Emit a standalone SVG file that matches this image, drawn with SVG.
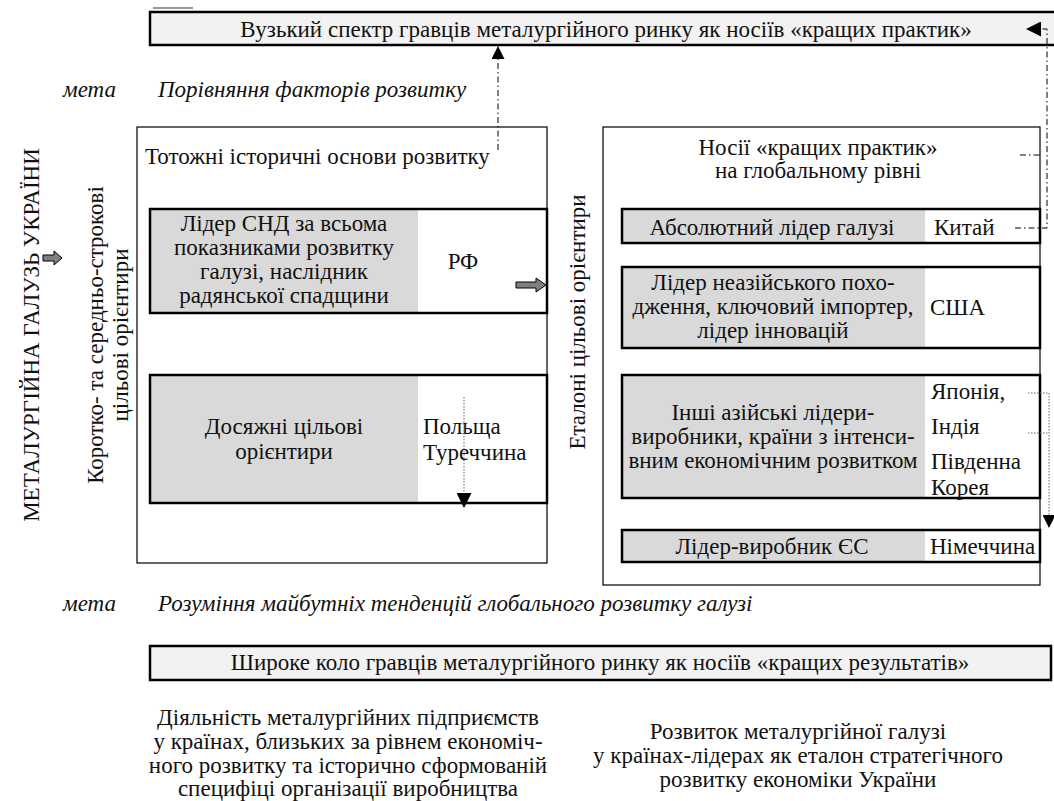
<svg xmlns="http://www.w3.org/2000/svg" width="1054" height="801" viewBox="0 0 1054 801" font-family="Liberation Serif, Times New Roman, serif">
<defs>
<style>
text{font-family:'Liberation Serif','Times New Roman',serif;font-size:23px;fill:#111}
.c{text-anchor:middle}
.i{font-style:italic}
.outer{fill:#fff;stroke:#000;stroke-width:1.2}
.band{fill:#f2f2f2;stroke:#000;stroke-width:2.5}
.gray{fill:#d9d9d9;stroke:none}
.frame{fill:none;stroke:#000;stroke-width:2.5}
.dd{fill:none;stroke:#000;stroke-width:1;stroke-dasharray:6 3 1.5 3}
.dot{fill:none;stroke:#666;stroke-width:1;stroke-dasharray:1.5 1.5}
.blk{fill:#808080;stroke:#000;stroke-width:1}
</style>
<marker id="ah" viewBox="0 0 10 10" refX="10" refY="5" markerWidth="13" markerHeight="13" markerUnits="userSpaceOnUse" orient="auto">
<path d="M0,0 L10,5 L0,10 z" fill="#000"/>
</marker>
<marker id="ahs" viewBox="0 0 10 10" refX="10" refY="5" markerWidth="15" markerHeight="15" markerUnits="userSpaceOnUse" orient="auto">
<path d="M0,0 L10,5 L0,10 z" fill="#000"/>
</marker>
</defs>

<g id="top-band">
<line x1="153" y1="8" x2="193" y2="8" stroke="#999" stroke-width="2"/>
<rect class="band" x="150" y="12" width="910" height="33"/>
<text class="c" x="606" y="37">Вузький спектр гравців металургійного ринку як носіїв «кращих практик»</text>
</g>

<g id="goal-top">
<text class="i" x="63" y="97">мета</text>
<text class="i" x="158" y="97">Порівняння факторів розвитку</text>
</g>

<g id="industry-ua">
<text class="c" transform="translate(39,335) rotate(-90)">МЕТАЛУРГІЙНА ГАЛУЗЬ УКРАЇНИ</text>
<path class="blk" d="M43,255 H54 V251 L62,258 L54,265 V261 H43 Z"/>
</g>

<g id="short-term">
<text class="c" transform="translate(103,335) rotate(-90)">Коротко- та середньо-строкові</text>
<text class="c" transform="translate(128,335) rotate(-90)">цільові орієнтири</text>
</g>

<g id="left-panel">
<rect class="outer" x="137" y="127" width="410" height="436"/>
<text x="145" y="164">Тотожні історичні основи розвитку</text>
</g>

<g id="node-rf">
<rect x="150" y="209" width="397" height="104" fill="#fff"/>
<rect class="gray" x="150" y="209" width="268" height="104"/>
<rect class="frame" x="150" y="209" width="397" height="104"/>
<text class="c" x="284" y="231">Лідер СНД за всьома</text>
<text class="c" x="284" y="255">показниками розвитку</text>
<text class="c" x="284" y="279">галузі, наслідник</text>
<text class="c" x="284" y="303">радянської спадщини</text>
<text class="c" x="463" y="269">РФ</text>
<path class="blk" d="M516,282 H536 V278 L546,285 L536,292 V288 H516 Z"/>
</g>

<g id="node-pl">
<rect x="150" y="375" width="397" height="128" fill="#fff"/>
<rect class="gray" x="150" y="375" width="268" height="128"/>
<rect class="frame" x="150" y="375" width="397" height="128"/>
<text class="c" x="284" y="434">Досяжні цільові</text>
<text class="c" x="284" y="459">орієнтири</text>
<text x="423" y="434">Польща</text>
<text x="423" y="460">Туреччина</text>
</g>

<g id="etalon-label">
<text class="c" transform="translate(585,322) rotate(-90)">Еталоні цільові орієнтири</text>
</g>

<g id="right-panel">
<rect class="outer" x="603" y="127" width="437" height="458"/>
<text class="c" x="818" y="155">Носії «кращих практик»</text>
<text class="c" x="818" y="178">на глобальному рівні</text>
</g>

<g id="node-china">
<rect x="622" y="209" width="418" height="34" fill="#fff"/>
<rect class="gray" x="622" y="209" width="303" height="34"/>
<rect class="frame" x="622" y="209" width="418" height="34"/>
<text class="c" x="772" y="235">Абсолютний лідер галузі</text>
<text x="934" y="235">Китай</text>
</g>

<g id="node-usa">
<rect x="622" y="267" width="418" height="81" fill="#fff"/>
<rect class="gray" x="622" y="267" width="303" height="81"/>
<rect class="frame" x="622" y="267" width="418" height="81"/>
<text class="c" x="773" y="290">Лідер неазійського похо-</text>
<text class="c" x="773" y="314">дження, ключовий імпортер,</text>
<text class="c" x="773" y="338">лідер інновацій</text>
<text x="930" y="315">США</text>
</g>

<g id="node-asia">
<rect x="622" y="375" width="418" height="123" fill="#fff"/>
<rect class="gray" x="622" y="375" width="303" height="123"/>
<rect class="frame" x="622" y="375" width="418" height="123"/>
<text class="c" x="773" y="420">Інші азійські лідери-</text>
<text class="c" x="773" y="444">виробники, країни з інтенси-</text>
<text class="c" x="773" y="468">вним економічним розвитком</text>
<text x="931" y="399">Японія,</text>
<text x="931" y="434">Індія</text>
<text x="931" y="469">Південна</text>
<text x="931" y="495">Корея</text>
</g>

<g id="node-eu">
<rect x="622" y="530" width="418" height="32" fill="#fff"/>
<rect class="gray" x="622" y="530" width="303" height="32"/>
<rect class="frame" x="622" y="530" width="418" height="32"/>
<text class="c" x="772" y="554">Лідер-виробник ЄС</text>
<text x="930" y="554">Німеччина</text>
</g>

<g id="goal-bottom">
<text class="i" x="63" y="611">мета</text>
<text class="i" x="158" y="611">Розуміння майбутніх тенденцій глобального розвитку галузі</text>
</g>

<g id="bottom-band">
<rect class="band" x="150" y="646" width="901" height="34"/>
<text class="c" x="600" y="670">Широке коло гравців металургійного ринку як носіїв «кращих результатів»</text>
</g>

<g id="note-left">
<text class="c" x="348" y="725">Діяльність металургійних підприємств</text>
<text class="c" x="348" y="749">у країнах, близьких за рівнем економіч-</text>
<text class="c" x="348" y="773">ного розвитку та історично сформованій</text>
<text class="c" x="348" y="796">специфіці організації виробництва</text>
</g>

<g id="note-right">
<text class="c" x="798" y="739">Розвиток металургійної галузі</text>
<text class="c" x="798" y="763">у країнах-лідерах як еталон стратегічного</text>
<text class="c" x="798" y="787">розвитку економіки України</text>
</g>

<g id="connectors">
<path class="dd" d="M498,150 V46" marker-end="url(#ah)"/>
<path class="dd" d="M1020,155 H1040"/>
<path class="dd" d="M1015,228 H1047 V29 H1026" marker-end="url(#ahs)"/>
<path class="dot" d="M464,397 V508" marker-end="url(#ahs)"/>
<path class="dot" d="M1028,393 H1049 M1028,433 H1049 M1049,393 V528" marker-end="url(#ah)"/>
</g>
</svg>
